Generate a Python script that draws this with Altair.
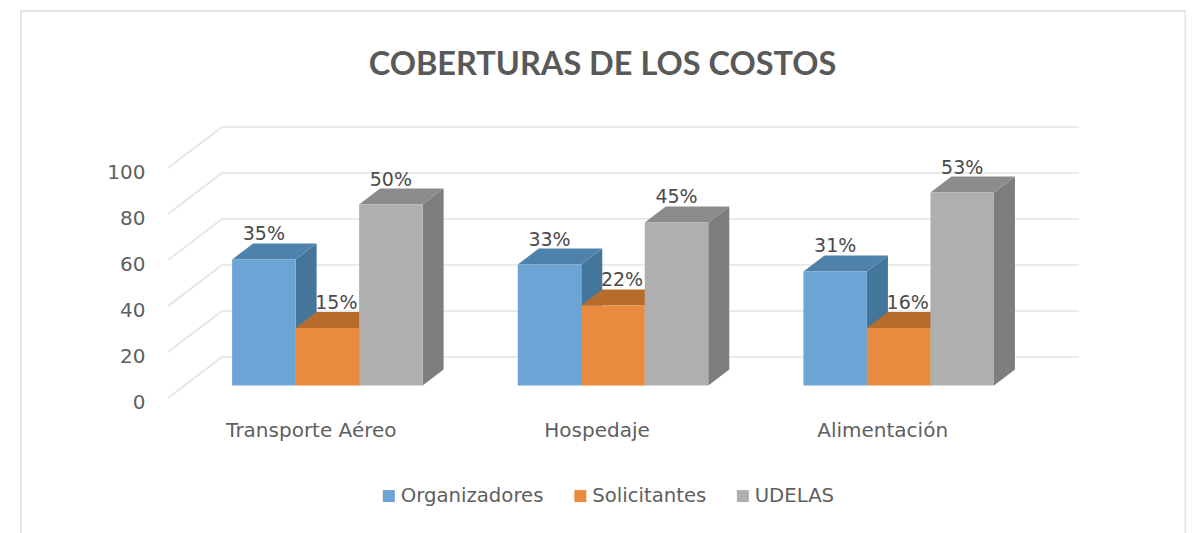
import altair as alt
import pandas as pd

categories = ["Transporte Aéreo", "Hospedaje", "Alimentación"]
series = ["Organizadores", "Solicitantes", "UDELAS"]
values = {
    "Organizadores": [54.8, 52.6, 49.6],
    "Solicitantes": [25.0, 34.8, 25.0],
    "UDELAS": [78.7, 70.9, 83.9],
}
labels = {
    "Organizadores": ["35%", "33%", "31%"],
    "Solicitantes": ["15%", "22%", "16%"],
    "UDELAS": ["50%", "45%", "53%"],
}
ticks = [0, 20, 40, 60, 80, 100]
front = {"Organizadores": "#6ca4d5", "Solicitantes": "#e98b3e", "UDELAS": "#afafaf"}
side = {"Organizadores": "#44769b", "Solicitantes": "#a85f25", "UDELAS": "#7d7d7d"}
top = {"Organizadores": "#4f82aa", "Solicitantes": "#b86c2c", "UDELAS": "#8b8b8b"}
label_dx = {"Organizadores": 0, "Solicitantes": 9, "UDELAS": 0}

FONT = "DejaVu Sans"
W, H = 911, 271
DX = 54 / 285.67      # chart depth in category units
DY = 41 / 2.3         # chart depth in value units
D0, D1 = 0.3056, 0.6944
BAR = 63.5 / 285.67
MARGIN = 1 / 6

xs = alt.Scale(domain=[0, 3 + DX], nice=False, zero=False)
ys = alt.Scale(domain=[0, 100 + DY], nice=False, zero=False)
axis_y = alt.Axis(values=ticks, grid=False, domain=False, ticks=False, title=None,
                  labelFont=FONT, labelFontSize=20, labelColor="#5f5f5f", labelPadding=23,
                  labelOffset=4, labelBound=False, labelFlush=False, labelOverlap=False)
cat_expr = "[" + ",".join(f"'{c}'" for c in categories) + "][floor(datum.value)]"
axis_x = alt.Axis(values=[0.5, 1.5, 2.5], grid=False, domain=False, ticks=False, title=None,
                  labelExpr=cat_expr, labelFont=FONT, labelFontSize=20, labelColor="#5f5f5f",
                  labelPadding=22, labelFlush=False, labelOverlap=False, labelBound=False)
X = lambda f: alt.X(f, type="quantitative", scale=xs, axis=axis_x)
Y = lambda f: alt.Y(f, type="quantitative", scale=ys, axis=axis_y)

panel = alt.Chart(pd.DataFrame({"a": [0]})).mark_rect(
    fill="white", fillOpacity=0, stroke="#e3e3e3", strokeWidth=2
).encode(x=alt.value(-147), x2=alt.value(1017.5), y=alt.value(-116), y2=alt.value(450))

grid_df = pd.DataFrame({"v": ticks})
grid_df["y"] = grid_df.v + DY
grid_df["x"] = DX
grid_df["x2"] = 3 + DX
back = alt.Chart(grid_df).mark_rule(color="#e4e4e4", strokeWidth=1.6).encode(
    x=X("x"), x2="x2:Q", y=Y("y"),
)

diag_rows = []
for v in ticks:
    diag_rows.append({"id": v, "x": 0, "y": v})
    diag_rows.append({"id": v, "x": DX, "y": v + DY})
diag = alt.Chart(pd.DataFrame(diag_rows)).mark_line(color="#e4e4e4", strokeWidth=1.6).encode(
    x=X("x"), y=Y("y"), detail="id:N"
)

layers = [panel, back, diag]
text_layers = []
for j, s in enumerate(series):
    fr, sd, tp, tx = [], [], [], []
    for i, v in enumerate(values[s]):
        xl = i + MARGIN + j * BAR
        xr = xl + BAR
        bid = f"{s}{i}"
        fr.append({"series": s, "x": xl + D0 * DX, "x2": xr + D0 * DX,
                   "y": D0 * DY, "y2": v + D0 * DY})
        for d in (D0, D1):
            sd.append({"id": bid, "x": xr + d * DX, "y": d * DY, "y2": v + d * DY})
            tp.append({"id": bid, "x": xl + d * DX, "x2": xr + d * DX, "y": v + d * DY})
        tx.append({"x": (xl + xr) / 2 + D0 * DX, "y": v + D1 * DY, "t": labels[s][i]})
    layers.append(alt.Chart(pd.DataFrame(sd)).mark_area(orient="vertical", color=side[s]).encode(
        x=X("x"), y=Y("y"), y2="y2:Q", detail="id:N"))
    layers.append(alt.Chart(pd.DataFrame(tp)).mark_area(orient="horizontal", color=top[s]).encode(
        y=Y("y"), x=X("x"), x2="x2:Q", detail="id:N"))
    layers.append(alt.Chart(pd.DataFrame(fr)).mark_rect().encode(
        x=X("x"), x2="x2:Q", y=Y("y"), y2="y2:Q",
        color=alt.Color("series:N",
                        scale=alt.Scale(domain=series, range=[front[n] for n in series]),
                        legend=alt.Legend(orient="none", legendX=211, legendY=359, direction="horizontal",
                                          columns=3, columnPadding=26.5, title=None, symbolType="square",
                                          symbolSize=144, symbolStrokeWidth=0, labelFont=FONT,
                                          labelFontSize=19.7, labelColor="#5f5f5f", labelOffset=2))))
    text_layers.append(alt.Chart(pd.DataFrame(tx)).mark_text(
        font=FONT, fontSize=19, color="#4a4a4a", baseline="bottom", align="center",
        dx=label_dx[s], dy=1
    ).encode(x=X("x"), y=Y("y"), text="t:N"))

chart = alt.layer(*layers, *text_layers).properties(
    width=W, height=H,
    autosize=alt.AutoSizeParams(type="none"),
    padding={"left": 160, "top": 119, "right": 107, "bottom": 135},
    background="white",
    title=alt.TitleParams("COBERTURAS DE LOS COSTOS", font="Lato", fontSize=32.5, fontWeight="bold",
                          color="#595959", anchor="middle", frame="group", dx=-21, offset=0, dy=71),
).configure_view(stroke=None)

chart.save("out.html", embed_options={"renderer": "svg", "actions": False})
